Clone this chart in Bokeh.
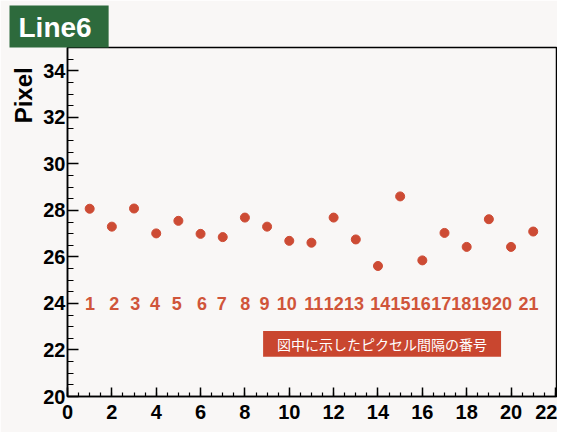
from bokeh.plotting import figure
from bokeh.models import Range1d, FixedTicker, Label, BoxAnnotation, ColumnDataSource, LinearAxis
from bokeh.core.properties import value
from bokeh.embed import file_html
from bokeh.resources import INLINE

# ---- data ----
pixel_no = list(range(1, 22))
pixel_val = [28.07, 27.30, 28.08, 27.01, 27.55, 26.99, 26.85, 27.69, 27.30, 26.69,
             26.61, 27.69, 26.75, 25.61, 28.60, 25.85, 27.03, 26.43, 27.62, 26.43, 27.09]
interval_labels = [str(i) for i in pixel_no]
x_ticks = list(range(0, 23, 2))
y_ticks = list(range(20, 35, 2))
y_title = "Pixel"
panel_title = "Line6"
note_text = "図中に示したピクセル間隔の番号"

# ---- layout (annotation placement) ----
label_x = [1.02, 2.11, 3.05, 3.95, 4.93, 6.06, 6.96, 8.01, 8.88, 9.89,
           11.10, 12.01, 12.92, 14.10, 15.02, 15.93, 16.85, 17.76, 18.67, 19.59, 20.79]
label_level = 24.0

BG = "#f9f7f6"
RED = "#cd4b34"
FONT = "Liberation Sans"

p = figure(width=557, height=432,
           x_range=Range1d(0, 22.05), y_range=Range1d(20, 35),
           output_backend="svg", toolbar_location=None,
           min_border_left=67, min_border_right=1,
           min_border_top=47, min_border_bottom=36)
p.background_fill_color = BG
p.border_fill_color = BG
p.outline_line_color = "black"
p.outline_line_width = 1.5
p.grid.visible = False

# title tab
p.title.text = panel_title
p.title.align = "left"
p.title.offset = -58
p.title.standoff = 0
p.title.text_font = FONT
p.title.text_font_style = "bold"
p.title.text_font_size = "28px"
p.title.text_color = "white"
p.title.background_fill_color = "#2d6a3c"
p.title.background_fill_alpha = 1.0
p.title.padding = dict(left=9, right=17, top=6, bottom=5)

for ax in (p.xaxis[0], p.yaxis[0]):
    ax.axis_line_color = "black"
    ax.axis_line_width = 1.5
    ax.major_tick_line_color = "black"
    ax.minor_tick_line_color = "black"
    ax.major_tick_line_width = 1.5
    ax.minor_tick_line_width = 1.2
    ax.major_tick_out = 0
    ax.minor_tick_out = 0
    ax.major_label_text_font = FONT
    ax.major_label_text_font_style = "bold"
    ax.major_label_text_font_size = "20px"
    ax.major_label_text_color = "black"

p.xaxis.ticker = FixedTicker(ticks=x_ticks, minor_ticks=[i * 0.5 for i in range(45)])
p.xaxis.major_tick_in = 9
p.xaxis.minor_tick_in = 4
p.xaxis.major_label_standoff = 8

p.yaxis.ticker = FixedTicker(ticks=y_ticks, minor_ticks=[20 + i * 0.5 for i in range(31)])
p.yaxis.major_tick_in = 11
p.yaxis.minor_tick_in = 6
p.yaxis.major_label_standoff = 2

# y title sits near the top end of the axis: pad the centred label with
# non-breaking spaces on its lower side
title_axis = LinearAxis(ticker=FixedTicker(ticks=[]),
                        axis_label="\u00a0" * 38 + y_title, axis_line_color=None,
                        major_tick_line_color=None, minor_tick_line_color=None,
                        major_label_text_font_size="0px",
                        axis_label_text_font=FONT, axis_label_text_font_style="bold",
                        axis_label_text_font_size="24px", axis_label_text_color="black",
                        axis_label_standoff=4)
p.add_layout(title_axis, "left")

src = ColumnDataSource(dict(x=pixel_no, y=pixel_val))
p.scatter("x", "y", source=src, size=9, fill_color=RED, line_color=RED)

lab_src = ColumnDataSource(dict(x=label_x, y=[label_level] * len(label_x), t=interval_labels))
p.text("x", "y", text="t", source=lab_src, text_align="center", text_baseline="middle",
       text_font=value(FONT), text_font_style="bold", text_font_size="18px",
       text_color="#d0553a")

# note box
p.add_layout(BoxAnnotation(left=8.82, right=19.55, bottom=21.71, top=22.82,
                           fill_color="#c9462f", fill_alpha=1.0, line_color=None))
p.add_layout(Label(x=14.18, y=22.27, text=note_text, text_align="center",
                   text_baseline="middle", text_color="white",
                   text_font="Noto Sans CJK JP", text_font_size="14px"))

open("out.html", "w").write(file_html(p, INLINE))
